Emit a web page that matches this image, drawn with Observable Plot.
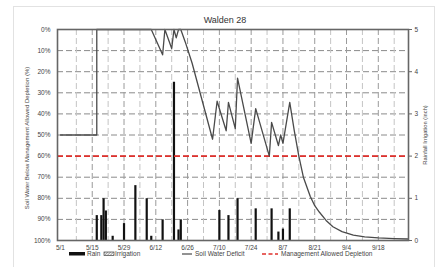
<!DOCTYPE html>
<html>
<head>
<meta charset="utf-8">
<script src="https://cdn.jsdelivr.net/npm/d3@7"></script>
<script src="https://cdn.jsdelivr.net/npm/@observablehq/plot@0.6"></script>
<style>
  html, body { margin: 0; padding: 0; background: #fff; }
  #chart { width: 440px; height: 267px; position: relative; }
</style>
</head>
<body>
<div id="chart"></div>
<script>
// ---- data (day 0 = May 1) ----
const titleText = "Walden 28";
const leftTitle = "Soil Water Below Management Allowed Depletion (%)";
const rightTitle = "Rainfall Irrigation (inch)";

const tickDays = [0, 14, 28, 42, 56, 70, 84, 98, 112, 126, 140];
const tickLabels = ["5/1", "5/15", "5/29", "6/12", "6/26", "7/10", "7/24", "8/7", "8/21", "9/4", "9/18"];
const leftTicks = [0, 10, 20, 30, 40, 50, 60, 70, 80, 90, 100];
const rightTicks = [0, 1, 2, 3, 4, 5];

// soil water deficit (%)
const deficitDays = [0, 16, 16, 40, 45, 46, 49, 50, 51, 52, 53, 55, 58, 62, 67, 69, 73, 74, 77, 78, 84, 86, 92, 93, 96, 97, 98, 101, 103, 105, 107, 110, 112, 114, 117, 120, 124, 129, 134, 140, 147, 153];
const deficitPct  = [50, 50, 0, 0, 12, 0, 9, 0, 4, 0, 0, 6, 16, 32, 52, 34, 48, 34.5, 47, 23, 54, 37.5, 60, 44, 55, 50, 54, 34.5, 48, 60, 70, 79, 83.5, 86.5, 90.5, 93.5, 95.8, 97.5, 98.3, 98.8, 99.1, 99.3];

// rain (inch)
const rainDays   = [16, 18, 19, 20, 23, 28, 33, 38, 40, 45, 50, 52, 53, 70, 74, 78, 86, 93, 96, 98, 101];
const rainInches = [0.59, 0.59, 0.99, 0.7, 0.1, 0.4, 1.3, 0.99, 0.1, 0.49, 3.75, 0.25, 0.49, 0.71, 0.59, 0.99, 0.75, 0.75, 0.2, 0.27, 0.75];

// management allowed depletion (%)
const madLevel = 60;

// legend entries
const legendLabels = ["Rain", "Irrigation", "Soil Water Deficit", "Management Allowed Depletion"];

// ---- build tables ----
const deficit = deficitDays.map((d, i) => ({day: d, pct: deficitPct[i]}));
const rain = rainDays.map((d, i) => ({day: d, inches: rainInches[i]}));
const inchToPct = v => 100 - v * 20;
const minorDays = d3.range(7, 154, 14);
const majorDays = tickDays.filter(d => d > 0);

const font = "'Liberation Sans', Arial, sans-serif";

const plot = Plot.plot({
  width: 440,
  height: 267,
  marginLeft: 57,
  marginRight: 32,
  marginTop: 29,
  marginBottom: 27,
  style: {fontFamily: font, fontSize: "6.5px", color: "#333", background: "#fff"},
  x: {domain: [-1.3, 153.3]},
  y: {domain: [0, 100], reverse: true},
  marks: [
    Plot.gridY(leftTicks.filter(v => v > 0 && v < 100), {stroke: "#8a8a8a", strokeOpacity: 1, strokeDasharray: "6,3", strokeWidth: 1}),
    Plot.gridX(minorDays, {stroke: "#c4c4c4", strokeOpacity: 1, strokeDasharray: "6,3", strokeWidth: 1}),
    Plot.gridX(majorDays, {stroke: "#9a9a9a", strokeOpacity: 1, strokeDasharray: "6,3", strokeWidth: 1}),
    Plot.ruleX(rain, {x: "day", y1: 100, y2: d => inchToPct(d.inches), stroke: "#111", strokeWidth: 2.2}),
    Plot.ruleY([madLevel], {stroke: "#e0302c", strokeWidth: 1.6, strokeDasharray: "6,3"}),
    Plot.line(deficit, {x: "day", y: "pct", stroke: "#4a4a4a", strokeWidth: 1.3}),
    Plot.frame({stroke: "#666", strokeWidth: 1.6}),
    Plot.axisY({ticks: leftTicks, tickFormat: d => d + "%", tickSize: 0, tickPadding: 7, label: null, fill: "#444"}),
    Plot.axisY({anchor: "right", ticks: rightTicks.map(inchToPct), tickFormat: d => String(Math.round((100 - d) / 20)), tickSize: 3, tickPadding: 3, label: null, fill: "#444", stroke: "#666"}),
    Plot.axisX({ticks: tickDays, tickFormat: (d, i) => tickLabels[tickDays.indexOf(d)], tickSize: 0, tickPadding: 5, label: null, fill: "#444"}),
    Plot.text([titleText], {frameAnchor: "top", dy: -13, dx: -8, fontSize: 9, fill: "#333"}),
    Plot.text([leftTitle], {frameAnchor: "left", dx: -30, dy: 3, rotate: -90, textAnchor: "middle", fontSize: 6, fill: "#444"}),
    Plot.text([rightTitle], {frameAnchor: "right", dx: 17, rotate: -90, textAnchor: "middle", fontSize: 5.8, fill: "#444"})
  ]
});

document.getElementById("chart").appendChild(plot);

// outer light border and legend
const svg = d3.select(plot);
svg.insert("rect", ":first-child")
  .attr("x", 13.5).attr("y", 6.5).attr("width", 421).attr("height", 262)
  .attr("fill", "none").attr("stroke", "#e2e2e2");

const defs = svg.append("defs");
const pat = defs.append("pattern").attr("id", "hatch").attr("patternUnits", "userSpaceOnUse")
  .attr("width", 2).attr("height", 2).attr("patternTransform", "rotate(45)");
pat.append("rect").attr("width", 2).attr("height", 2).attr("fill", "#fff");
pat.append("line").attr("x1", 0).attr("y1", 0).attr("x2", 0).attr("y2", 2).attr("stroke", "#444").attr("stroke-width", 1);

const ly = 254;
const lg = svg.append("g").attr("font-family", font).attr("font-size", "6.5px").attr("fill", "#444").attr("text-anchor", "start");
lg.append("rect").attr("x", 69).attr("y", ly - 2).attr("width", 16).attr("height", 3.5).attr("fill", "#111");
lg.append("text").attr("x", 87).attr("y", ly).attr("dy", "0.35em").text(legendLabels[0]);
lg.append("rect").attr("x", 104).attr("y", ly - 2).attr("width", 10).attr("height", 3.5).attr("fill", "url(#hatch)").attr("stroke", "#444").attr("stroke-width", 0.7);
lg.append("text").attr("x", 115).attr("y", ly).attr("dy", "0.35em").text(legendLabels[1]);
lg.append("line").attr("x1", 182).attr("x2", 192).attr("y1", ly).attr("y2", ly).attr("stroke", "#4a4a4a").attr("stroke-width", 1.2);
lg.append("text").attr("x", 195).attr("y", ly).attr("dy", "0.35em").text(legendLabels[2]);
lg.append("line").attr("x1", 262).attr("x2", 278).attr("y1", ly).attr("y2", ly).attr("stroke", "#e0302c").attr("stroke-width", 1.6).attr("stroke-dasharray", "4,2.5");
lg.append("text").attr("x", 281).attr("y", ly).attr("dy", "0.35em").text(legendLabels[3]);
</script>
</body>
</html>
